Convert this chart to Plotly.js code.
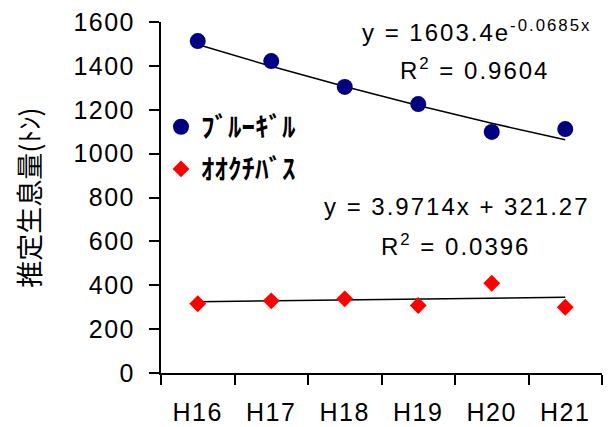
<!DOCTYPE html>
<html><head><meta charset="utf-8">
<script src="https://cdn.plot.ly/plotly-3.0.1.min.js"></script>
<style>
html,body{margin:0;padding:0;background:#fff}
#chart{width:608px;height:427px}
#chart .xtick text, #chart .ytick text{letter-spacing:1.5px}
#chart .annotation-text{letter-spacing:2px}
</style>
</head><body><div id="chart"></div>
<script>
const categories = ['H16','H17','H18','H19','H20','H21'];
const bluegill = [1513, 1422, 1304, 1226, 1099, 1112];
const bass = [316, 329, 338, 308, 409, 300];
const seriesNames = ['ﾌﾞﾙｰｷﾞﾙ', 'ｵｵｸﾁﾊﾞｽ'];
// trendline coefficients as printed on the chart
const expA = 1603.4, expB = -0.0685;
const linM = 3.9714, linC = 321.27;
const xIdx = categories.map((_, i) => i + 1);
const expTrend = xIdx.map(x => expA * Math.exp(expB * x));
const linTrend = xIdx.map(x => linM * x + linC);

const numFont = 'Liberation Sans, Arial, sans-serif';
const jpFont = 'Noto Sans CJK JP, sans-serif';

const traces = [
  {x: categories, y: expTrend, mode: 'lines', line: {color: '#000', width: 1.5}, showlegend: false, hoverinfo: 'skip'},
  {x: categories, y: linTrend, mode: 'lines', line: {color: '#000', width: 1.5}, showlegend: false, hoverinfo: 'skip'},
  {x: categories, y: bluegill, name: seriesNames[0], mode: 'markers', legendgroup: 'a',
   marker: {symbol: 'circle', size: 16, color: '#000080'}},
  {x: categories, y: bass, name: seriesNames[1], mode: 'markers', legendgroup: 'b',
   marker: {symbol: 'diamond', size: 13, color: '#ff0000'}}
];

const layout = {
  width: 608, height: 427,
  margin: {l: 161, r: 6, t: 22, b: 54},
  paper_bgcolor: '#fff', plot_bgcolor: '#fff',
  showlegend: true,
  legend: {x: 0.0, y: 0.77, xanchor: 'left', yanchor: 'top', bgcolor: 'rgba(0,0,0,0)',
           font: {family: jpFont, size: 27, color: '#000', weight: 'bold'},
           tracegroupgap: 4, traceorder: 'grouped'},
  xaxis: {
    type: 'category', range: [-0.5, 5.5], tickson: 'boundaries',
    showline: true, linecolor: '#000', linewidth: 2,
    ticks: 'outside', ticklen: 10, tickwidth: 2, tickcolor: '#000',
    showgrid: false, zeroline: false, ticklabelstandoff: 16,
    tickfont: {family: numFont, size: 25, color: '#000'}
  },
  yaxis: {
    range: [0, 1600], dtick: 200, tick0: 0,
    showline: true, linecolor: '#000', linewidth: 2,
    ticks: 'outside', ticklen: 10, tickwidth: 2, tickcolor: '#000',
    showgrid: false, zeroline: false, ticklabelstandoff: 9,
    tickfont: {family: numFont, size: 25, color: '#000'},
    title: {text: '推定生息量(ﾄﾝ)', font: {family: jpFont, size: 27, color: '#000'}, standoff: 31}
  },
  annotations: [
    {xref: 'paper', yref: 'paper', x: 0.717, y: 0.975, xanchor: 'center', yanchor: 'middle', showarrow: false,
     text: 'y = 1603.4e<sup>-0.0685x</sup>', font: {family: numFont, size: 24, color: '#000'}},
    {xref: 'paper', yref: 'paper', x: 0.712, y: 0.865, xanchor: 'center', yanchor: 'middle', showarrow: false,
     text: 'R<sup>2</sup> = 0.9604', font: {family: numFont, size: 24, color: '#000'}},
    {xref: 'paper', yref: 'paper', x: 0.672, y: 0.475, xanchor: 'center', yanchor: 'middle', showarrow: false,
     text: 'y = 3.9714x + 321.27', font: {family: numFont, size: 24, color: '#000'}},
    {xref: 'paper', yref: 'paper', x: 0.667, y: 0.365, xanchor: 'center', yanchor: 'middle', showarrow: false,
     text: 'R<sup>2</sup> = 0.0396', font: {family: numFont, size: 24, color: '#000'}}
  ]
};

Plotly.newPlot('chart', traces, layout, {displayModeBar: false, staticPlot: true});
</script>
</body></html>
